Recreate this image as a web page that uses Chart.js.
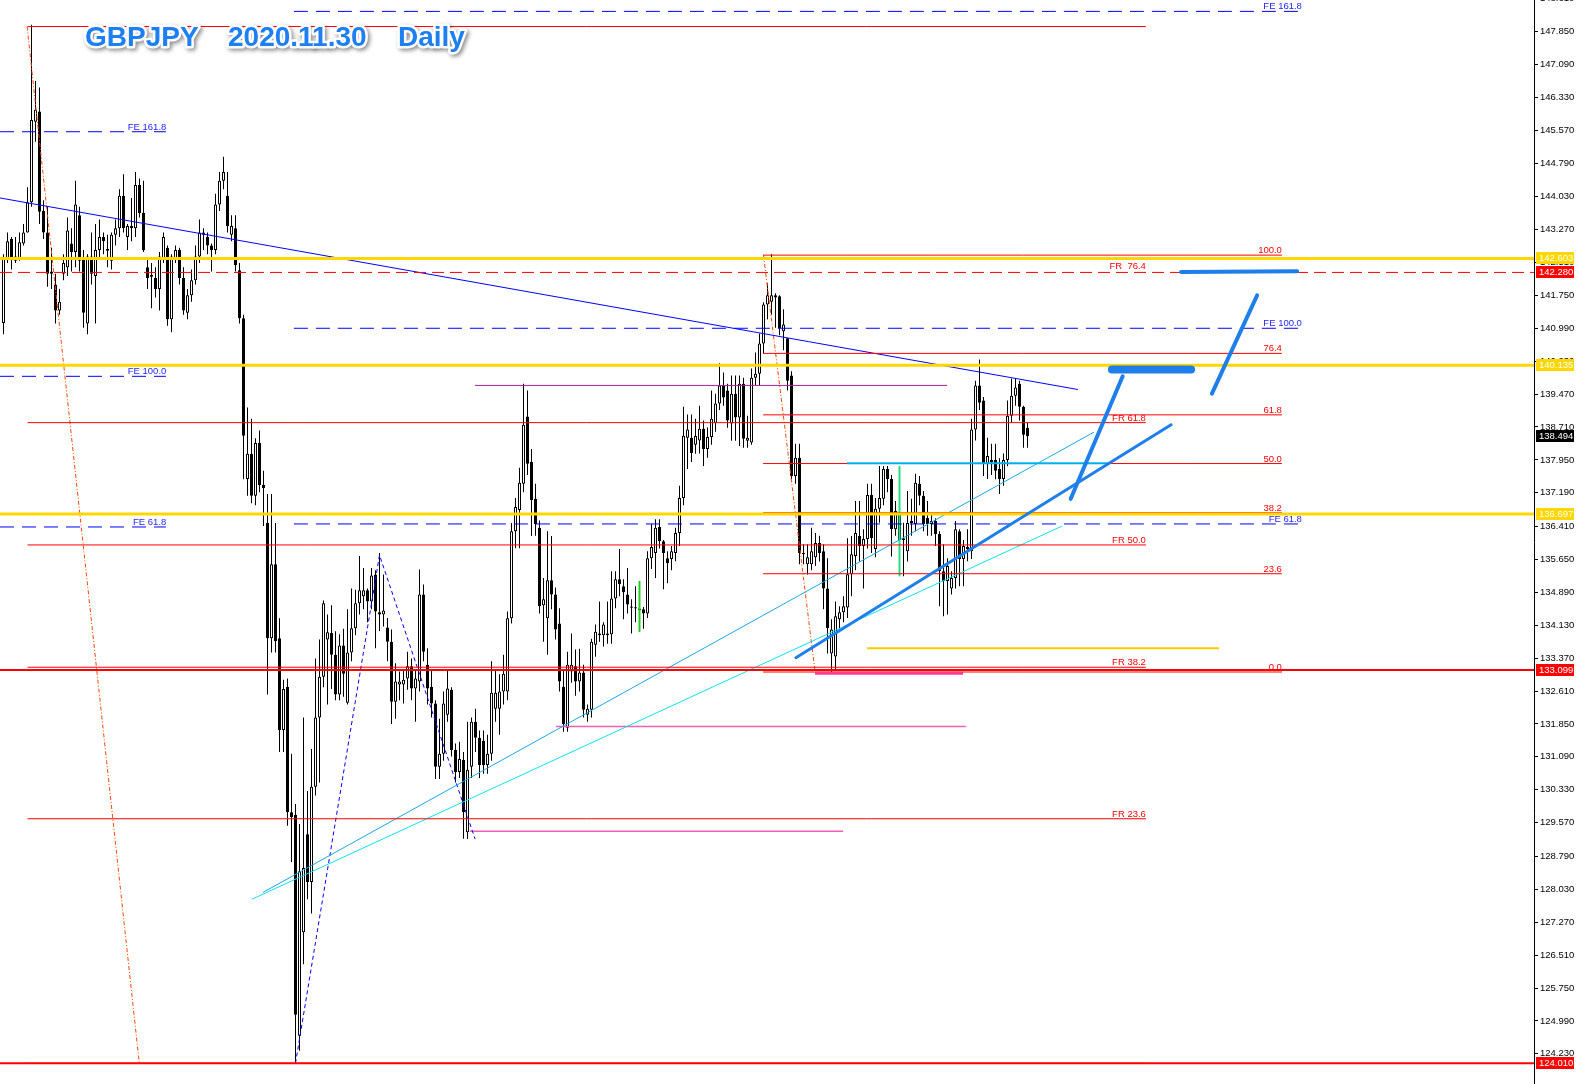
<!DOCTYPE html>
<html><head><meta charset="utf-8">
<script src="https://cdn.jsdelivr.net/npm/chart.js@4.4.0/dist/chart.umd.min.js"></script>
<style>html,body{margin:0;padding:0;background:#fff;overflow:hidden}</style>
</head><body>
<canvas id="c" width="1581" height="1084"></canvas>
<script>
// ---------------- DATA ----------------
const opens = [
141.11,142.60,143.05,142.65,142.60,142.95,143.20,143.90,145.76,146.00,
143.70,143.20,142.30,142.00,141.40,142.25,142.40,142.95,142.75,143.60,
142.60,141.10,142.65,142.20,142.80,143.10,142.82,142.55,143.15,143.30,
144.05,143.10,143.35,143.30,144.30,143.65,142.40,142.22,142.15,141.90,
142.60,142.85,141.20,142.60,142.80,142.15,141.35,141.75,142.10,142.65,
143.15,143.10,142.90,142.80,143.85,144.40,144.05,143.15,143.30,142.33,
141.22,137.51,138.09,137.12,138.34,137.37,136.49,133.83,135.54,133.83,
131.71,132.71,129.81,129.75,124.65,127.04,129.30,128.20,130.40,132.00,
132.94,133.80,133.95,133.45,132.53,133.66,132.34,133.50,134.06,134.64,
134.80,134.94,134.68,135.30,134.43,134.38,134.08,133.75,132.36,132.76,
132.76,132.90,133.18,132.67,132.83,134.84,133.22,132.71,132.32,130.86,
131.16,132.06,132.64,131.25,130.74,131.02,129.35,130.86,131.90,131.53,
131.46,130.90,131.16,132.20,132.20,132.60,132.60,134.29,136.30,136.79,
137.40,138.95,137.90,137.05,136.38,134.59,134.29,135.17,134.84,134.17,
132.71,131.76,133.06,133.18,132.83,133.04,132.06,132.18,133.68,133.90,
133.90,133.90,133.92,134.75,135.19,135.03,134.84,134.56,134.54,134.50,
134.50,134.40,135.68,135.80,136.40,136.07,135.68,135.66,135.80,136.26,
137.07,138.46,138.46,138.30,138.40,138.67,138.20,138.48,138.80,139.25,
139.67,139.55,138.79,139.48,138.93,139.71,138.39,138.35,139.85,139.94,
140.64,141.54,141.60,141.75,141.73,140.92,140.76,139.90,137.58,138.00,
135.80,135.54,135.54,135.70,136.03,135.84,134.98,133.48,133.41,134.27,
134.43,134.54,135.31,135.73,136.19,135.96,136.12,137.14,135.89,136.82,
137.05,137.74,137.51,136.35,136.70,136.14,135.84,136.49,136.47,137.40,
137.12,136.61,136.47,136.54,136.24,135.38,135.15,134.98,135.22,136.30,
135.66,135.89,135.84,138.65,139.67,139.32,137.86,137.90,137.95,137.74,
137.51,137.95,138.97,139.43,139.71,139.18,138.69];
const highs = [
142.70,143.20,143.10,143.10,143.20,143.40,144.25,148.00,146.70,146.55,
143.95,143.80,142.85,142.25,141.90,142.70,143.55,143.30,144.40,143.80,
142.80,142.70,143.20,143.40,143.50,143.20,143.15,143.20,143.50,144.20,
144.55,143.40,144.00,144.60,144.45,144.40,142.60,142.50,142.40,142.75,
143.20,142.90,142.70,142.90,142.85,142.40,141.90,142.35,142.90,143.50,
143.30,143.20,142.95,144.10,144.60,144.95,144.60,143.60,143.60,142.50,
141.30,139.16,138.90,138.45,138.63,137.70,137.16,137.16,136.49,134.29,
132.87,132.90,131.16,130.00,129.54,132.00,130.30,131.27,133.36,133.80,
134.70,134.38,134.59,133.99,133.92,134.05,134.50,134.98,134.95,135.73,
135.45,134.98,135.45,135.40,135.80,135.30,134.30,134.03,133.25,133.06,
133.10,133.52,133.36,133.10,135.42,135.07,133.60,133.10,132.40,131.97,
132.60,133.10,132.70,131.40,131.44,131.20,131.90,132.00,132.20,131.70,
131.70,131.60,133.30,133.10,133.00,133.45,134.45,136.49,137.07,137.77,
139.71,139.55,138.20,137.40,136.55,135.22,136.30,136.19,135.00,134.52,
133.10,133.52,133.94,133.57,133.59,133.22,132.30,133.82,134.15,134.68,
134.20,134.68,135.38,135.38,135.89,135.19,135.45,134.73,135.03,135.15,
134.55,135.84,136.47,136.58,136.58,136.10,135.84,135.96,136.38,137.35,
139.18,139.00,139.00,138.90,139.20,138.86,138.70,139.55,139.48,140.18,
139.97,139.71,139.90,139.90,139.90,139.85,138.97,140.06,140.43,140.87,
141.59,142.03,142.70,141.80,141.75,141.43,140.76,140.00,138.32,138.32,
136.00,136.00,136.38,136.26,136.20,136.00,135.68,134.27,134.68,134.57,
134.80,136.14,136.19,137.00,137.00,136.35,137.40,137.40,137.07,137.81,
137.81,137.81,137.60,137.00,136.80,136.50,137.23,137.05,137.63,137.58,
137.23,137.00,136.70,136.60,136.30,136.00,135.68,135.38,136.54,136.35,
136.10,136.35,138.90,139.78,140.27,139.40,138.46,138.32,138.32,137.99,
138.10,139.32,139.83,139.83,139.78,139.20,138.81];
const lows = [
140.85,142.50,142.35,142.50,142.55,142.90,143.20,143.80,145.30,143.40,
143.05,141.95,141.90,141.10,141.30,142.10,142.20,142.30,142.40,142.30,
141.00,140.85,142.00,141.10,142.60,142.70,142.40,142.35,142.90,143.10,
143.20,142.80,143.00,143.10,143.55,142.75,141.90,141.45,141.70,141.40,
142.50,141.05,140.90,142.50,142.00,141.30,141.20,141.60,142.00,142.50,
142.80,142.70,142.30,142.70,143.70,144.20,143.20,143.00,142.30,141.10,
137.50,137.12,136.95,136.90,137.20,136.42,132.53,133.50,133.50,131.20,
131.20,129.50,128.66,124.01,124.30,126.30,127.80,127.47,130.20,130.50,
132.70,132.30,132.66,132.40,132.40,132.48,132.30,133.30,133.90,134.38,
134.50,134.20,134.50,133.60,134.00,134.10,133.30,131.85,131.97,132.40,
132.32,132.64,132.40,131.90,132.60,133.30,132.30,132.00,130.58,130.58,
131.00,131.90,131.10,130.50,130.60,129.20,129.19,130.60,131.20,130.60,
130.70,130.70,131.00,131.90,131.60,132.30,132.40,134.17,135.91,135.91,
137.20,137.60,136.19,136.20,134.40,133.75,133.45,134.50,133.80,132.60,
131.67,131.67,132.80,132.50,132.60,132.00,131.90,132.00,133.40,133.75,
133.64,133.70,133.70,134.52,134.80,134.27,134.40,133.94,134.20,133.98,
134.05,134.30,135.43,135.22,135.90,134.96,135.10,135.40,135.61,135.96,
136.90,137.74,137.90,138.09,138.10,137.81,138.00,138.30,138.60,139.10,
139.20,138.69,138.39,138.39,138.27,138.23,138.23,138.30,139.67,139.67,
140.40,141.20,141.30,141.00,140.83,140.48,139.55,137.50,137.40,135.54,
135.54,135.30,135.40,135.50,135.60,134.50,133.48,133.01,133.10,134.00,
134.20,134.30,134.80,135.40,135.60,134.98,135.90,135.80,135.70,136.50,
136.90,137.20,135.72,136.20,135.30,135.26,135.60,136.20,136.30,136.90,
136.30,136.20,136.20,135.96,134.57,134.34,134.38,134.84,134.98,135.03,
135.03,135.61,135.66,138.40,139.10,137.58,137.51,137.60,137.50,137.16,
137.35,137.80,138.80,139.20,138.86,138.23,138.23];
const closes = [
142.62,143.00,142.60,142.55,142.98,143.20,143.90,145.80,146.04,143.68,
143.20,142.25,142.25,141.40,141.60,142.50,143.25,142.75,143.85,142.55,
141.35,142.65,142.25,142.80,143.10,143.00,142.78,143.15,143.30,144.05,
143.30,143.35,143.30,144.30,143.65,142.80,142.15,142.18,141.90,142.65,
143.10,141.20,142.65,142.80,142.15,141.40,141.75,142.10,142.65,143.20,
143.20,142.90,142.80,143.85,144.40,144.60,143.35,143.35,142.45,141.22,
138.51,138.09,137.12,138.34,137.37,137.30,133.83,135.54,133.76,131.71,
132.66,129.81,129.70,125.13,128.45,128.52,128.20,130.40,132.00,132.94,
134.64,133.97,133.45,132.53,133.66,133.01,133.50,134.06,134.64,134.94,
134.94,134.68,135.28,134.45,134.38,134.47,133.75,132.36,132.83,132.83,
132.87,133.18,132.67,132.90,134.84,133.52,132.67,132.32,130.86,131.16,
132.32,132.67,131.25,130.74,131.04,129.81,130.79,131.90,131.53,130.90,
130.90,131.16,132.57,132.57,132.60,133.01,134.29,136.30,136.86,137.42,
138.76,137.86,137.02,136.47,134.57,134.73,135.17,134.84,134.03,132.83,
131.85,133.22,133.22,132.83,133.04,132.18,132.20,133.75,133.98,133.94,
134.15,133.94,134.75,135.19,135.08,134.89,134.61,134.54,134.52,134.50,
134.40,135.68,135.94,136.38,136.07,135.80,135.56,135.84,136.26,137.07,
138.51,138.65,138.11,138.50,138.67,138.20,138.48,138.90,139.25,139.67,
139.39,138.86,139.48,138.93,139.71,138.44,138.46,139.85,139.94,140.64,
141.54,141.75,141.75,141.70,140.99,141.08,139.78,137.58,138.00,135.80,
135.77,135.70,135.84,136.03,135.80,134.98,134.06,134.03,134.34,134.43,
134.57,135.31,135.77,136.26,135.96,136.12,137.14,136.14,136.82,137.07,
137.74,137.51,136.35,136.77,136.10,136.10,136.49,136.54,137.42,137.12,
136.47,136.47,136.54,136.24,135.38,135.15,135.50,135.22,136.35,135.66,
135.96,135.94,138.65,139.67,139.27,137.86,138.04,137.95,137.70,137.51,
137.95,138.97,139.43,139.62,139.18,138.53,138.494];

// green marker bars
const greenIdx = [159, 224];
const greenLo  = [133.98, 135.26];
const greenHi  = [135.15, 137.81];

// y-axis tick labels
const yTicks = [148.610,147.850,147.090,146.330,145.570,144.790,144.030,143.270,142.510,141.750,140.990,140.230,
 139.470,138.710,137.950,137.190,136.410,135.650,134.890,134.130,133.370,132.610,131.850,131.090,130.330,129.570,
 128.790,128.030,127.270,126.510,125.750,124.990,124.230];

// horizontal price levels across the whole chart
const yellowLevels = [142.603, 140.135, 136.697];
const redDashLevel = [142.280];
const redThickLevels = [133.099, 124.010];
// price tags on the axis
const yellowTags = [142.603, 140.135, 136.697];
const redTags = [142.280, 133.099, 124.010];
const lastPrice = 138.494;

// Fibonacci retracement (left, big swing)
const leftFibRange = [6.0, 285.6];
const leftFibLevels = [147.96, 138.81, 135.985, 133.16, 129.66, 124.01];
const leftFibLabelVals = [129.66, 133.16, 135.985, 138.81, 142.31];
const leftFibLabelTxt = ['FR 23.6','FR 38.2','FR 50.0','FR 61.8','FR  76.4'];
// Fibonacci retracement (right)
const rightFibRange = [189.9, 319.6];
const rightFibLevels = [142.68, 140.41, 138.99, 137.865, 136.73, 135.32, 133.05];
const rightFibLabelTxt = ['100.0','76.4','61.8','50.0','38.2','23.6','0.0'];
// Fibonacci expansions
const feLabelTxt = ['FE 161.8','FE 100.0','FE 61.8'];
const leftFERange = [-0.875, 40.6];
const leftFELevels = [145.53, 139.88, 136.40];
const rightFERange = [72.6, 324.4];
const rightFELevels = [148.31, 140.99, 136.47];

// trend lines [index, price]
const blueTrend   = [[-0.875, 144.00], [268.6, 139.575]];
const cyanTrend1  = [[64.9, 127.96], [272.6, 138.59]];
const cyanTrend2  = [[62.1, 127.80], [264.6, 136.42]];
const zigzag      = [[73.0, 124.01], [94.0, 135.75], [117.9, 129.19]];
const orangeLeft  = [[5.9, 147.96], [33.95, 124.01]];
const orangeRight = [[190.0, 142.68], [202.9, 133.05]];
// short horizontal segments [fromIndex, toIndex, price]
const cyanH   = [210.9, 276.1, 137.87];
const purpleH = [117.9, 235.9, 139.67];
const pinkH1  = [138.1, 240.6, 131.79];
const pinkH2  = [116.6, 209.9, 129.37];
const pinkH3  = [202.9, 239.9, 133.02];
const goldH   = [215.9, 303.9, 133.60];
// hand-drawn scenario strokes
const scenA = [[198.1, 133.38], [291.9, 138.76]];
const scenB = [[266.8, 137.05], [279.8, 139.88]];
const scenC = [[277.1, 140.04], [296.9, 140.04]];
const scenD = [[302.1, 139.48], [313.4, 141.75]];
const scenE = [[294.4, 142.29], [323.4, 142.31]];

const titleParts = ['GBPJPY', '2020.11.30', 'Daily'];

// ---------------- CHART ----------------
const XMIN = -0.875, XMAX = 382.625, YMIN = 123.533, YMAX = 148.573;
const idx = opens.map((_, i) => i);
const datasets = [];
const pts = a => a.map(p => ({x: p[0], y: p[1]}));
function addLine(points, color, width, dash, order, cap) {
  datasets.push({type: 'line', data: pts(points), borderColor: color, borderWidth: width,
    borderDash: dash || [], pointRadius: 0, pointHoverRadius: 0, fill: false, tension: 0,
    order: order, borderCapStyle: cap || 'butt'});
}
const RED = '#ff0000', BLUE = '#0000ff', GOLD = '#ffd700', SCEN = '#1f7fea';

// candles
datasets.push({type: 'bar', order: 40, grouped: false, maxBarThickness: 1, barPercentage: 1, categoryPercentage: 1,
  inflateAmount: 0, borderWidth: 0, backgroundColor: '#000',
  data: idx.map(i => ({x: i, y: [Math.min(lows[i], opens[i], closes[i]), Math.max(highs[i], opens[i], closes[i])]}))});
datasets.push({type: 'bar', order: 39, grouped: false, maxBarThickness: 3, barPercentage: 1, categoryPercentage: 1,
  inflateAmount: 0, borderWidth: 1, borderSkipped: false, borderColor: '#000',
  backgroundColor: idx.map(i => closes[i] >= opens[i] ? '#ffffff' : '#000000'),
  data: idx.map(i => {
    let lo = Math.min(opens[i], closes[i]), hi = Math.max(opens[i], closes[i]);
    if (hi - lo < 0.03) { const m = (hi + lo) / 2; lo = m - 0.015; hi = m + 0.015; }
    return {x: i, y: [lo, hi]};
  })});
datasets.push({type: 'bar', order: 38, grouped: false, maxBarThickness: 2, barPercentage: 1, categoryPercentage: 1,
  inflateAmount: 0, borderWidth: 0, backgroundColor: ['#1fd01f', '#22e07a'],
  data: greenIdx.map((g, k) => ({x: g, y: [greenLo[k], greenHi[k]]}))});

// thin object lines
leftFibLevels.forEach(v => addLine([[leftFibRange[0], v], [leftFibRange[1], v]], RED, 1, [], 20));
rightFibLevels.forEach(v => addLine([[rightFibRange[0], v], [rightFibRange[1], v]], RED, 1, [], 20));
leftFELevels.forEach(v => addLine([[leftFERange[0], v], [leftFERange[1], v]], BLUE, 1, [14, 8], 20));
rightFELevels.forEach(v => addLine([[rightFERange[0], v], [rightFERange[1], v]], BLUE, 1, [14, 8], 20));
addLine(blueTrend, BLUE, 1, [], 20);
addLine(cyanTrend1, '#1aa7e6', 1, [], 20);
addLine(cyanTrend2, '#10e0f0', 1, [], 20);
addLine(zigzag, BLUE, 1, [4, 3], 20);
addLine(orangeLeft, '#ff4500', 1, [4, 2, 1, 2], 20);
addLine(orangeRight, '#ff4500', 1, [4, 2, 1, 2], 20);
addLine([[purpleH[0], purpleH[2]], [purpleH[1], purpleH[2]]], '#a8208f', 1, [], 20);
addLine([[pinkH1[0], pinkH1[2]], [pinkH1[1], pinkH1[2]]], '#f060b4', 1.5, [], 20);
addLine([[pinkH2[0], pinkH2[2]], [pinkH2[1], pinkH2[2]]], '#f060b4', 1.5, [], 20);
addLine([[pinkH3[0], pinkH3[2]], [pinkH3[1], pinkH3[2]]], '#ff3c8c', 3, [], 19);
addLine([[goldH[0], goldH[2]], [goldH[1], goldH[2]]], '#ffc800', 2, [], 20);
addLine([[cyanH[0], cyanH[2]], [cyanH[1], cyanH[2]]], '#00b0ee', 2, [], 18);
// full width levels
redDashLevel.forEach(v => addLine([[XMIN, v], [XMAX, v]], RED, 1, [12, 6], 15));
redThickLevels.forEach(v => addLine([[XMIN, v], [XMAX, v]], RED, 2, [], 15));
yellowLevels.forEach(v => addLine([[XMIN, v], [XMAX, v]], GOLD, 3, [], 10));
// scenario strokes
addLine(scenA, SCEN, 3, [], 5, 'round');
addLine(scenB, SCEN, 4, [], 5, 'round');
addLine(scenC, SCEN, 8, [], 5, 'round');
addLine(scenD, SCEN, 4, [], 5, 'round');
addLine(scenE, SCEN, 4, [], 5, 'round');

const FONT_SMALL = '9.5px "Liberation Sans", Arial, sans-serif';
const overlay = {
  id: 'overlay',
  afterDatasetsDraw(chart) {
    const {ctx, scales: {x, y}} = chart;
    ctx.save();
    ctx.font = FONT_SMALL;
    ctx.textBaseline = 'alphabetic';
    ctx.textAlign = 'right';
    const put = (t, xi, v, col) => { ctx.fillStyle = col; ctx.fillText(t, x.getPixelForValue(xi), y.getPixelForValue(v) - 2); };
    leftFibLabelVals.forEach((v, k) => put(leftFibLabelTxt[k], leftFibRange[1], v, RED));
    rightFibLevels.forEach((v, k) => put(rightFibLabelTxt[k], rightFibRange[1], v, RED));
    leftFELevels.forEach((v, k) => put(feLabelTxt[k], leftFERange[1] + 0.1, v, '#1f1fff'));
    rightFELevels.forEach((v, k) => put(feLabelTxt[k], rightFERange[1] + 0.2, v, '#1f1fff'));
    // title
    ctx.font = 'bold 28px "Liberation Sans", Arial, sans-serif';
    ctx.textAlign = 'left';
    const tx = [85, 228, 398];
    titleParts.forEach((t, k) => {
      ctx.save();
      ctx.shadowColor = 'rgba(0,0,0,0.45)'; ctx.shadowBlur = 4; ctx.shadowOffsetX = 2; ctx.shadowOffsetY = 2;
      ctx.lineWidth = 5; ctx.lineJoin = 'round'; ctx.strokeStyle = '#ffffff';
      ctx.strokeText(t, tx[k], 46);
      ctx.restore();
      ctx.fillStyle = '#1e7ff2';
      ctx.fillText(t, tx[k], 46);
    });
    ctx.restore();
  },
  afterDraw(chart) {
    const {ctx, scales: {y}} = chart;
    ctx.save();
    ctx.font = FONT_SMALL;
    ctx.textBaseline = 'middle';
    ctx.textAlign = 'left';
    const tag = (v, bg) => {
      const py = Math.round(y.getPixelForValue(v));
      ctx.fillStyle = bg; ctx.fillRect(1536, py - 6, 38, 12);
      ctx.fillStyle = '#ffffff'; ctx.fillText(v.toFixed(3), 1539, py + 0.5);
    };
    yellowTags.forEach(v => tag(v, GOLD));
    redTags.forEach(v => tag(v, RED));
    tag(lastPrice, '#000000');
    ctx.restore();
  }
};

new Chart(document.getElementById('c'), {
  type: 'bar',
  data: {datasets},
  options: {
    responsive: false, animation: false, devicePixelRatio: 1,
    layout: {padding: 0},
    events: [],
    plugins: {legend: {display: false}, tooltip: {enabled: false}, title: {display: false}},
    scales: {
      x: {type: 'linear', min: XMIN, max: XMAX, display: false, offset: false},
      y: {type: 'linear', position: 'right', min: YMIN, max: YMAX,
        afterBuildTicks: s => { s.ticks = yTicks.map(v => ({value: v})); },
        afterFit: s => { s.width = 47; s.paddingTop = 0; s.paddingBottom = 0; },
        ticks: {autoSkip: false, padding: 2, color: '#000', font: {family: '"Liberation Sans", Arial, sans-serif', size: 9.5},
          callback: v => Number(v).toFixed(3)},
        grid: {drawOnChartArea: false, drawTicks: true, tickLength: 4, color: '#000'},
        border: {display: true, color: '#000', width: 1}
      }
    }
  },
  plugins: [overlay]
});
</script>
</body></html>
